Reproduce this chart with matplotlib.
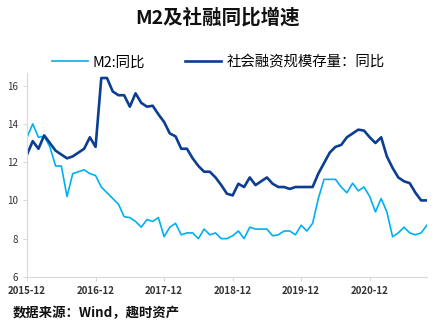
import matplotlib
matplotlib.use("Agg")
import matplotlib.pyplot as plt

plt.rcParams['font.family'] = ['Noto Sans CJK SC', 'DejaVu Sans']

tick_labels = ["2015-12", "2016-12", "2017-12", "2018-12", "2019-12", "2020-12"]

m2 = [13.3, 14.0, 13.3, 13.35, 12.8, 11.8, 11.8, 10.2, 11.4, 11.5, 11.6, 11.4,
      11.3, 10.7, 10.4, 10.1, 9.8, 9.15, 9.1, 8.9, 8.6, 9.0, 8.9, 9.1,
      8.1, 8.6, 8.8, 8.2, 8.3, 8.3, 8.0, 8.5, 8.2, 8.3, 8.0, 8.0,
      8.15, 8.4, 8.0, 8.6, 8.5, 8.5, 8.5, 8.15, 8.2, 8.4, 8.4, 8.2,
      8.7, 8.4, 8.8, 10.1, 11.1, 11.1, 11.1, 10.7, 10.4, 10.9, 10.5, 10.7,
      10.2, 9.4, 10.1, 9.4, 8.1, 8.3, 8.6, 8.3, 8.2, 8.3, 8.7]

tsf = [12.4, 13.1, 12.7, 13.4, 13.0, 12.6, 12.4, 12.2, 12.3, 12.5, 12.7, 13.3,
       12.8, 16.4, 16.4, 15.7, 15.5, 15.5, 14.9, 15.6, 15.1, 14.9, 14.95, 14.5,
       14.1, 13.5, 13.35, 12.7, 12.7, 12.2, 11.8, 11.5, 11.5, 11.2, 10.8, 10.35,
       10.26, 10.87, 10.7, 11.2, 10.8, 11.0, 11.2, 10.87, 10.7, 10.7, 10.6, 10.7,
       10.7, 10.7, 10.7, 11.4, 11.95, 12.5, 12.8, 12.9, 13.3, 13.5, 13.7, 13.65,
       13.3, 13.0, 13.3, 12.3, 11.7, 11.2, 11.0, 10.9, 10.4, 10.0, 10.0]

idx = list(range(len(m2)))

fig = plt.figure(figsize=(4.36, 3.32), dpi=100)
ax = fig.add_axes([0.062, 0.166, 0.917, 0.614])

ax.plot(idx, m2, color='#00B0F0', lw=1.2, label='M2:同比')
ax.plot(idx, tsf, color='#0B3E91', lw=1.9, label='社会融资规模存量：同比')

ax.set_xlim(0, len(m2) - 1)
ax.set_ylim(6, 16.66)
ax.set_yticks([6, 8, 10, 12, 14, 16])
ax.set_xticks([i * 12 for i in range(len(tick_labels))])
ax.set_xticklabels(tick_labels)

for s in ['top', 'right']:
    ax.spines[s].set_visible(False)
ax.spines['left'].set_color('#d9d9d9')
ax.spines['bottom'].set_color('#d9d9d9')
ax.tick_params(axis='both', colors='#d9d9d9', labelcolor='#333333', labelsize=7, length=3, width=0.8)
for lab in ax.get_xticklabels():
    lab.set_fontweight('bold')

fig.text(0.5, 0.948, 'M2及社融同比增速', ha='center', va='center', fontsize=14, fontweight='bold', color='#111111')
fig.legend(loc='center', bbox_to_anchor=(0.5, 0.812), ncol=2, frameon=False, fontsize=10.4,
           handlelength=2.5, columnspacing=2.75, handletextpad=0.35)
fig.text(0.028, 0.058, '数据来源：Wind，趣时资产', ha='left', va='center', fontsize=9.6, fontweight='bold', color='#111111')

fig.savefig('out.png', dpi=100)
